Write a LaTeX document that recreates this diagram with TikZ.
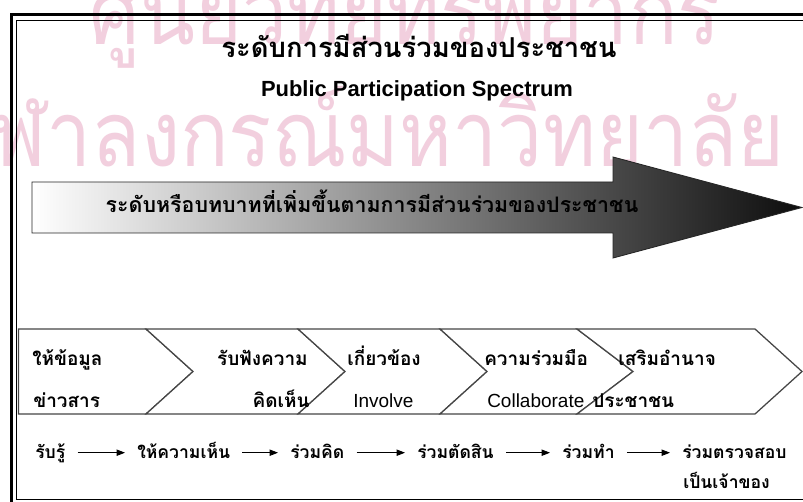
\documentclass[tikz,border=0pt]{standalone}
\usepackage{fontspec}
\setmainfont{Liberation Sans}
\newfontfamily\thaifont[Script=Thai]{Loma}
\usetikzlibrary{arrows.meta,positioning}

\definecolor{wmpink}{RGB}{242,207,222}
\definecolor{chevline}{RGB}{70,70,70}

\tikzset{
  thai/.style={font=\thaifont\bfseries\fontsize{#1}{#1}\selectfont, inner sep=0pt},
  thai/.default=13.5,
  eng/.style={font=\fontsize{13.5}{16}\selectfont, inner sep=0pt, anchor=base west},
  wm/.style={font=\thaifont\fontsize{65}{65}\selectfont, text=wmpink, inner sep=0pt,
             xscale=0.88, transform shape},
  chev/.style={draw=chevline, line width=0.9pt, fill=white},
  stage/.style={thai=12.5, inner xsep=0.3cm, inner ysep=0pt,
                text height=0.42cm, text depth=0.155cm, anchor=base west},
  flow/.style={-{Triangle[length=6pt,width=4.5pt]}, line width=0.7pt}
}

\begin{document}
\begin{tikzpicture}
  \useasboundingbox (0,0) rectangle (20.075,12.525);
  \clip (0,0) rectangle (20.075,12.525);
  \fill[white] (0,0) rectangle (20.075,12.525);

  % watermark behind everything
  \node[wm, anchor=base] (wm1) at (10.125,11.4) {ศูนย์วิทยทรัพยากร};
  \node[wm, anchor=base east] (wm2) at (19.625,8.35) {จุฬาลงกรณ์มหาวิทยาลัย};

  % double frame
  \draw[line width=2.2pt] (0.2875,-1) |- (21,12.1625);
  \draw[line width=0.7pt] (21,0.05) -| (0.4125,12.025) -- (21,12.025);

  % heading
  \node[thai=19.5, anchor=base] (title) at (10.475,11.075) {ระดับการมีส่วนร่วมของประชาชน};
  \node[font=\bfseries\fontsize{15.6}{18}\selectfont, inner sep=0pt, anchor=base] (subtitle)
    at (10.425,10.1) {Public Participation Spectrum};

  % big shaded arrow
  \shadedraw[draw=black!85, line width=0.6pt, left color=white, right color=black!95]
    (0.8,7.975) -- (15.325,7.975) -- (15.325,8.6) -- (20.05,7.3375)
    -- (15.325,6.075) -- (15.325,6.7) -- (0.8,6.7) -- cycle;
  \node[thai=15.2, anchor=base] (level) at (9.3,7.2) {ระดับหรือบทบาทที่เพิ่มขึ้นตามการมีส่วนร่วมของประชาชน};

  % chevron row
  \draw[chev] (0.4625,4.3) -- (3.65,4.3) -- (4.825,3.2375) -- (3.65,2.175) -- (0.4625,2.175) -- cycle;
  \draw[chev] (3.65,4.3) -- (7.45,4.3) -- (8.625,3.2375) -- (7.45,2.175) -- (3.65,2.175) -- (4.825,3.2375) -- cycle;
  \draw[chev] (7.45,4.3) -- (11.0,4.3) -- (12.175,3.2375) -- (11.0,2.175) -- (7.45,2.175) -- (8.625,3.2375) -- cycle;
  \draw[chev] (11.0,4.3) -- (14.425,4.3) -- (15.825,3.2375) -- (14.425,2.175) -- (11.0,2.175) -- (12.175,3.2375) -- cycle;
  \draw[chev] (14.425,4.3) -- (18.875,4.3) -- (20.05,3.2375) -- (18.875,2.175) -- (14.425,2.175) -- (15.825,3.2375) -- cycle;

  \node[thai, anchor=base west] (inform) at (0.8,3.4) {ให้ข้อมูล};
  \node[thai, anchor=base west] (inform2) at (0.825,2.35) {ข่าวสาร};
  \node[thai, anchor=base east] (consult) at (7.7,3.4) {รับฟังความ};
  \node[thai, anchor=base east] (consult2) at (7.75,2.35) {คิดเห็น};
  \node[thai, anchor=base west] (involve) at (8.675,3.4) {เกี่ยวข้อง};
  \node[eng] (involve2) at (8.825,2.35) {Involve};
  \node[thai, anchor=base west] (collab) at (12.1,3.4) {ความร่วมมือ};
  \node[eng] (collab2) at (12.175,2.35) {Collaborate};
  \node[thai, anchor=base west] (empower) at (15.45,3.4) {เสริมอำนาจ};
  \node[thai, anchor=base west] (empower2) at (14.8,2.35) {ประชาชน};

  % bottom flow
  \node[stage] (r1) at (0.575,1.075) {รับรู้};
  \node[stage] (r2) at (3.125,1.075) {ให้ความเห็น};
  \node[stage] (r3) at (6.95,1.075) {ร่วมคิด};
  \node[stage] (r4) at (10.125,1.075) {ร่วมตัดสิน};
  \node[stage] (r5) at (13.75,1.075) {ร่วมทำ};
  \node[stage] (r6) at (16.75,1.075) {ร่วมตรวจสอบ};
  \node[stage] (r6b) at (16.775,0.325) {เป็นเจ้าของ};

  \draw[flow] (r1) -- (r2);
  \draw[flow] (r2) -- (r3);
  \draw[flow] (r3) -- (r4);
  \draw[flow] (r4) -- (r5);
  \draw[flow] (r5) -- (r6);
\end{tikzpicture}
\end{document}
